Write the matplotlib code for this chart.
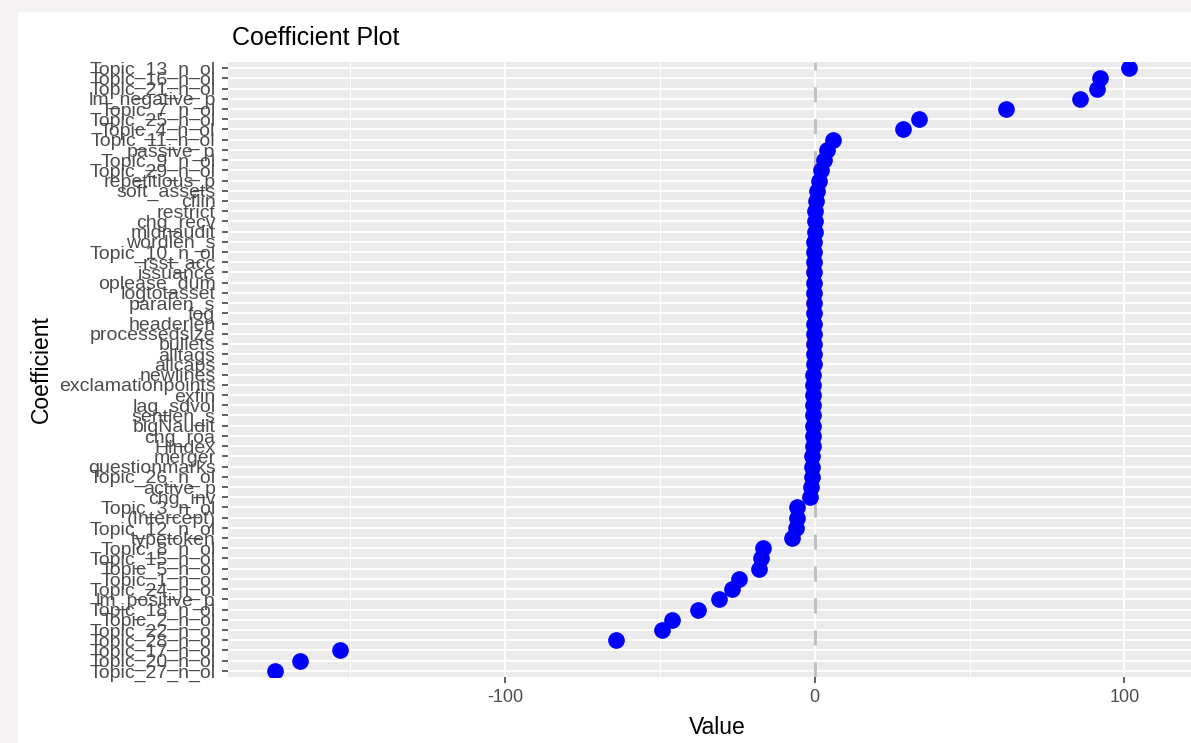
import matplotlib
matplotlib.use("Agg")
import matplotlib.pyplot as plt
import numpy as np
from matplotlib.patches import Rectangle

plt.rcParams['font.family'] = ['Liberation Sans', 'DejaVu Sans']

# coefficient names, top of the plot first
coefs = [
    "Topic_13_n_ol", "Topic_16_n_ol", "Topic_21_n_ol", "lm_negative_p", "Topic_7_n_ol",
    "Topic_25_n_ol", "Topic_4_n_ol", "Topic_11_n_ol", "passive_p", "Topic_9_n_ol",
    "Topic_29_n_ol", "repetitious_p", "soft_assets", "cflin", "restrict",
    "chg_recv", "midnaudit", "wordlen_s", "Topic_10_n_ol", "rsst_acc",
    "issuance", "oplease_dum", "logtotasset", "paralen_s", "fog",
    "headerlen", "processedsize", "bullets", "alltags", "allcaps",
    "newlines", "exclamationpoints", "exfin", "lag_sdvol", "sentlen_s",
    "bigNaudit", "chg_roa", "Hindex", "merger", "questionmarks",
    "Topic_26_n_ol", "active_p", "chg_inv", "Topic_3_n_ol", "(Intercept)",
    "Topic_12_n_ol", "typetoken", "Topic_8_n_ol", "Topic_15_n_ol", "Topic_5_n_ol",
    "Topic_1_n_ol", "Topic_24_n_ol", "lm_positive_p", "Topic_18_n_ol", "Topic_2_n_ol",
    "Topic_22_n_ol", "Topic_28_n_ol", "Topic_17_n_ol", "Topic_20_n_ol", "Topic_27_n_ol",
]
values = [
    101.5, 92.0, 91.3, 85.5, 61.6,
    33.5, 28.4, 5.8, 4.1, 3.0,
    2.0, 1.3, 0.7, 0.3, 0.1,
    0.0, -0.05, -0.1, -0.1, -0.15,
    -0.2, -0.2, -0.25, -0.3, -0.3,
    -0.3, -0.35, -0.35, -0.4, -0.4,
    -0.45, -0.45, -0.5, -0.5, -0.55,
    -0.6, -0.6, -0.7, -0.8, -0.9,
    -1.0, -1.1, -1.4, -5.7, -5.8,
    -6.2, -7.3, -16.8, -17.3, -18.0,
    -24.6, -26.7, -31.0, -37.7, -46.1,
    -49.3, -64.2, -153.2, -166.2, -174.4,
]
xticks = [-100, 0, 100]

n = len(coefs)
ypos = np.arange(n)[::-1]   # first coefficient on top

fig = plt.figure(figsize=(11.91, 7.43), dpi=100, facecolor='#f4f2f2')
fig.add_artist(Rectangle((18 / 1191, 0), 1, (743 - 12) / 743,
                         transform=fig.transFigure, facecolor='white',
                         edgecolor='none', zorder=-10))

ax = fig.add_axes([228 / 1191, 66 / 743, 1 - 228 / 1191, (677 - 62) / 743])
ax.set_facecolor('#EBEBEB')
for s in ax.spines.values():
    s.set_visible(False)

# grid like ggplot
for y in ypos:
    ax.axhline(y, color='white', lw=1.3, zorder=0)
for x in [-150, -50, 50]:
    ax.axvline(x, color='white', lw=0.7, zorder=0)
for x in xticks:
    ax.axvline(x, color='white', lw=1.4, zorder=0)

ax.axvline(0, color='#BEBEBE', lw=2.0, linestyle=(0, (5.5, 6.0)), zorder=1)

ax.plot(values, ypos, 'o', color='#0000FF', ms=12, mec='none', zorder=3)

ax.set_xlim(-189.5, 121.5)
ax.set_ylim(-0.6, n - 1 + 0.6)
ax.set_xticks(xticks)
ax.set_xticklabels([str(t) for t in xticks])
ax.set_yticks(ypos)
ax.set_yticklabels(coefs)
ax.tick_params(axis='y', length=4, width=1.1, color='#333333', pad=5,
               labelsize=14, labelcolor='#4D4D4D')
ax.tick_params(axis='x', length=4, width=1.1, color='#333333', pad=5,
               labelsize=13, labelcolor='#4D4D4D')

fig.text(232 / 1191, (743 - 38) / 743, "Coefficient Plot", fontsize=18,
         ha='left', va='center', color='black')
fig.text(717 / 1191, (743 - 727) / 743, "Value", fontsize=16.5,
         ha='center', va='center', color='black')
fig.text(41 / 1191, (743 - 369) / 743, "Coefficient", fontsize=16.5,
         ha='center', va='center', rotation=90, color='black')

fig.savefig("out.png", dpi=100, facecolor=fig.get_facecolor())
